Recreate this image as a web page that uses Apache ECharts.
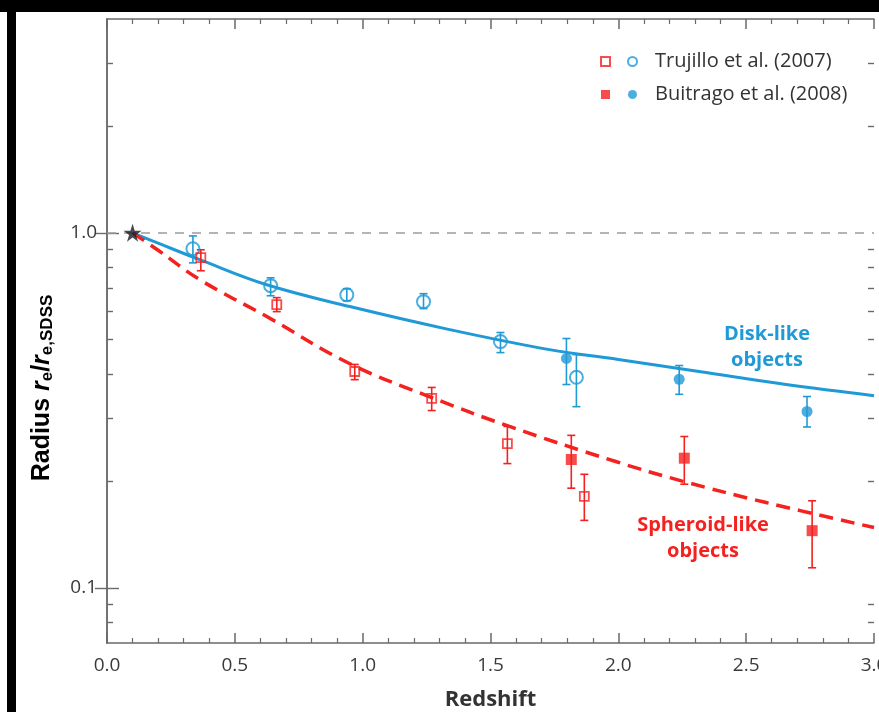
<!DOCTYPE html>
<html>
<head>
    <meta charset="utf-8">
    <title>Radius vs redshift</title>
    <style>
        html, body {
            margin: 0;
            padding: 0;
            background-color: #fff;
        }
        #chart {
            width: 879px;
            height: 712px;
        }
    </style>
</head>
<body>
    <div id="chart"></div>
</body>
<script type="text/javascript" src="https://cdn.jsdelivr.net/npm/echarts@6/dist/echarts.min.js"></script>
<script type="text/javascript">
    // [redshift, r/r_SDSS, lower, upper]
    var trujilloDisk = [
        [0.336, 0.902, 0.823, 0.980],
        [0.640, 0.710, 0.665, 0.747],
        [0.938, 0.669, 0.644, 0.696],
        [1.238, 0.640, 0.612, 0.674],
        [1.539, 0.494, 0.460, 0.524],
        [1.836, 0.392, 0.324, 0.454]
    ];
    var buitragoDisk = [
        [1.797, 0.443, 0.374, 0.504],
        [2.238, 0.387, 0.351, 0.423],
        [2.738, 0.314, 0.284, 0.346]
    ];
    var trujilloSpheroid = [
        [0.367, 0.851, 0.782, 0.896],
        [0.664, 0.628, 0.600, 0.657],
        [0.969, 0.407, 0.386, 0.426],
        [1.270, 0.342, 0.316, 0.367],
        [1.566, 0.255, 0.224, 0.285],
        [1.867, 0.181, 0.155, 0.209]
    ];
    var buitragoSpheroid = [
        [1.816, 0.230, 0.191, 0.269],
        [2.258, 0.232, 0.196, 0.267],
        [2.758, 0.145, 0.114, 0.176]
    ];
    var sdssPoint = [[0.1, 1.0]];

    // fitted curves
    var diskFitZ = [0.1, 0.2, 0.363, 0.625, 0.95, 1.34, 1.73, 2.0, 2.316, 2.656, 3.0];
    var diskFitR = [1.0, 0.935, 0.840, 0.714, 0.620, 0.534, 0.469, 0.440, 0.407, 0.374, 0.348];
    var spheroidFitZ = [0.1, 0.2, 0.363, 0.625, 0.95, 1.26, 1.574, 1.99, 2.25, 2.578, 3.0];
    var spheroidFitR = [1.0, 0.893, 0.738, 0.581, 0.428, 0.346, 0.285, 0.227, 0.200, 0.174, 0.148];

    var yMajorTicks = [0.1, 1];
    var yMinorTicks = [0.08, 0.09, 0.2, 0.3, 0.4, 0.5, 0.6, 0.7, 0.8, 0.9, 2, 3];

    var blue = '#1f9ad6';
    var red = '#f4211f';
    var axisColor = '#6a6a6a';
    var labelColor = '#3a3a3a';
    var starPath = 'path://M50,0 L61.8,35.1 L98.9,35.1 L68.9,56.9 L80.3,92.1 L50,70.3 L19.7,92.1 L31.1,56.9 L1.1,35.1 L38.2,35.1 Z';

    function pairs(xs, ys) {
        var out = [];
        for (var i = 0; i < xs.length; i++) {
            out.push([xs[i], ys[i]]);
        }
        return out;
    }

    function errorBars(data, color) {
        return {
            type: 'custom',
            silent: true,
            z: 3,
            data: data,
            renderItem: function (params, api) {
                var top = api.coord([api.value(0), api.value(3)]);
                var bot = api.coord([api.value(0), api.value(2)]);
                var cap = 4;
                var st = { stroke: color, lineWidth: 1.6 };
                return {
                    type: 'group',
                    children: [
                        { type: 'line', shape: { x1: top[0], y1: top[1], x2: bot[0], y2: bot[1] }, style: st },
                        { type: 'line', shape: { x1: top[0] - cap, y1: top[1], x2: top[0] + cap, y2: top[1] }, style: st },
                        { type: 'line', shape: { x1: bot[0] - cap, y1: bot[1], x2: bot[0] + cap, y2: bot[1] }, style: st }
                    ]
                };
            },
            encode: { x: 0, y: 1 }
        };
    }

    var myChart = echarts.init(document.getElementById('chart'), null, { renderer: 'canvas' });

    var xCommon = {
        type: 'value',
        min: 0,
        max: 3,
        interval: 0.5,
        axisLine: { show: true, lineStyle: { color: axisColor, width: 1.5 } },
        axisTick: { show: true, inside: true, length: 10, lineStyle: { color: axisColor, width: 1.5 } },
        minorTick: { show: true, splitNumber: 5, length: 5, lineStyle: { color: axisColor, width: 1.2 } },
        splitLine: { show: false },
        minorSplitLine: { show: false }
    };

    function yAxisDef(position, ticks, tickLen, showLine, label) {
        return {
            type: 'log',
            logBase: 10,
            min: 0.07,
            max: 4,
            position: position,
            axisLine: { show: showLine, lineStyle: { color: axisColor, width: 1.5 } },
            axisTick: { show: true, inside: true, length: tickLen, customValues: ticks, lineStyle: { color: axisColor, width: 1.4 } },
            axisLabel: label || { show: false },
            splitLine: { show: false }
        };
    }

    var option = {
        backgroundColor: '#fff',
        animation: false,
        grid: { left: 107, right: 5, top: 19, bottom: 69, containLabel: false, outerBoundsMode: 'none' },
        xAxis: [
            Object.assign({}, xCommon, {
                position: 'bottom',
                name: 'Redshift',
                nameLocation: 'middle',
                nameGap: 46,
                nameTextStyle: { fontFamily: 'Open Sans', fontWeight: 'bold', fontSize: 22, color: '#333' },
                axisLabel: {
                    show: true,
                    margin: 13,
                    fontFamily: 'Open Sans',
                    fontSize: 19,
                    color: labelColor,
                    formatter: function (v) { return v.toFixed(1); }
                }
            }),
            Object.assign({}, xCommon, {
                position: 'top',
                axisLabel: { show: false }
            })
        ],
        yAxis: [
            yAxisDef('left', yMajorTicks, 12, true, {
                show: true,
                margin: 10,
                customValues: yMajorTicks,
                fontFamily: 'Open Sans',
                fontSize: 19,
                color: labelColor,
                formatter: function (v) { return v >= 0.999 ? '1.0' : '0.1'; }
            }),
            yAxisDef('right', yMajorTicks, 12, true),
            yAxisDef('left', yMinorTicks, 6, false),
            yAxisDef('right', yMinorTicks, 6, false)
        ],
        legend: [
            {
                orient: 'vertical',
                left: 600,
                top: 51,
                padding: 0,
                itemWidth: 9,
                itemHeight: 9,
                itemGap: 12,
                formatter: function () { return ' '; },
                textStyle: { fontSize: 12, lineHeight: 21 },
                selectedMode: false,
                data: ['Trujillo spheroid', 'Buitrago spheroid']
            },
            {
                orient: 'vertical',
                left: 627,
                top: 51,
                padding: 0,
                itemWidth: 9,
                itemHeight: 9,
                itemGap: 12,
                selectedMode: false,
                textStyle: { fontFamily: 'Open Sans', fontSize: 20, lineHeight: 21, color: '#333', padding: [0, 0, 0, 13] },
                formatter: function (name) {
                    return name === 'Trujillo disk' ? 'Trujillo et al. (2007)' : 'Buitrago et al. (2008)';
                },
                data: ['Trujillo disk', 'Buitrago disk']
            }
        ],
        graphic: [
            { type: 'rect', shape: { x: 0, y: 0, width: 879, height: 12 }, style: { fill: '#000' }, silent: true },
            { type: 'rect', shape: { x: 7, y: 0, width: 9, height: 712 }, style: { fill: '#000' }, silent: true },
            {
                type: 'text',
                x: 42,
                y: 388,
                rotation: Math.PI / 2,
                silent: true,
                style: {
                    text: '{b|Radius }{i|r}{s|e}{b|/}{i|r}{s|e,SDSS}',
                    align: 'center',
                    verticalAlign: 'middle',
                    rich: {
                        b: { fontFamily: 'Liberation Sans', fontWeight: 'bold', fontSize: 25, fill: '#000', lineHeight: 30, verticalAlign: 'middle' },
                        i: { fontFamily: 'Liberation Sans', fontWeight: 'bold', fontStyle: 'italic', fontSize: 25, fill: '#000', lineHeight: 30, verticalAlign: 'middle' },
                        s: { fontFamily: 'Liberation Sans', fontWeight: 'bold', fontSize: 17, fill: '#000', lineHeight: 15, verticalAlign: 'bottom', padding: [0, 0, 1, 0] }
                    }
                }
            },
            {
                type: 'text',
                x: 767,
                y: 347,
                silent: true,
                style: {
                    text: 'Disk-like\nobjects',
                    align: 'center',
                    verticalAlign: 'middle',
                    fontFamily: 'Open Sans',
                    fontWeight: 'bold',
                    fontSize: 20,
                    lineHeight: 26,
                    fill: blue
                }
            },
            {
                type: 'text',
                x: 703,
                y: 538,
                silent: true,
                style: {
                    text: 'Spheroid-like\nobjects',
                    align: 'center',
                    verticalAlign: 'middle',
                    fontFamily: 'Open Sans',
                    fontWeight: 'bold',
                    fontSize: 20,
                    lineHeight: 26,
                    fill: red
                }
            }
        ],
        series: [
            {
                name: 'Disk fit',
                type: 'line',
                data: pairs(diskFitZ, diskFitR),
                showSymbol: false,
                smooth: 0.4,
                z: 2,
                silent: true,
                lineStyle: { color: blue, width: 3 },
                markLine: {
                    silent: true,
                    symbol: 'none',
                    label: { show: false },
                    lineStyle: { color: '#9c9c9c', width: 1.5, type: [9, 8] },
                    data: [{ yAxis: 1 }]
                }
            },
            {
                name: 'Spheroid fit',
                type: 'line',
                data: pairs(spheroidFitZ, spheroidFitR),
                showSymbol: false,
                smooth: 0.4,
                z: 2,
                silent: true,
                lineStyle: { color: red, width: 3.5, type: [14, 8] }
            },
            errorBars(trujilloDisk, blue),
            errorBars(buitragoDisk, blue),
            errorBars(trujilloSpheroid, red),
            errorBars(buitragoSpheroid, red),
            {
                name: 'Trujillo disk',
                type: 'scatter',
                z: 4,
                symbol: 'circle',
                symbolSize: 13,
                data: trujilloDisk.map(function (d) { return [d[0], d[1]]; }),
                itemStyle: { color: 'rgba(255,255,255,0)', borderColor: blue, borderWidth: 2 }
            },
            {
                name: 'Buitrago disk',
                type: 'scatter',
                z: 4,
                symbol: 'circle',
                symbolSize: 11,
                data: buitragoDisk.map(function (d) { return [d[0], d[1]]; }),
                itemStyle: { color: blue }
            },
            {
                name: 'Trujillo spheroid',
                type: 'scatter',
                z: 4,
                symbol: 'rect',
                symbolSize: 9,
                data: trujilloSpheroid.map(function (d) { return [d[0], d[1]]; }),
                itemStyle: { color: 'rgba(255,255,255,0)', borderColor: red, borderWidth: 1.8 }
            },
            {
                name: 'Buitrago spheroid',
                type: 'scatter',
                z: 4,
                symbol: 'rect',
                symbolSize: 11,
                data: buitragoSpheroid.map(function (d) { return [d[0], d[1]]; }),
                itemStyle: { color: red }
            },
            {
                name: 'SDSS',
                type: 'scatter',
                z: 5,
                symbol: starPath,
                symbolSize: 18,
                data: sdssPoint,
                itemStyle: { color: '#1c1c28' }
            }
        ]
    };

    myChart.setOption(option);
</script>
</html>
